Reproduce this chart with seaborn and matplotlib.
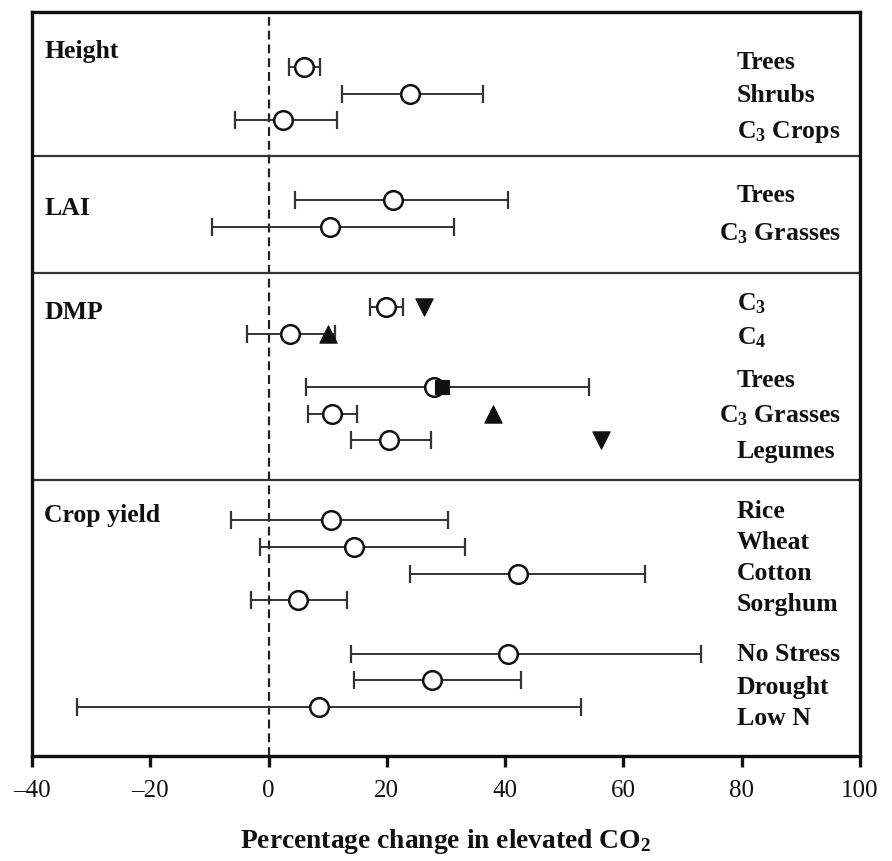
import numpy as np
import pandas as pd
import matplotlib
matplotlib.use("Agg")
import matplotlib.pyplot as plt
import seaborn as sns

# ---------------- data ----------------
groups = ["Height", "LAI", "DMP", "Crop yield"]
row_labels = ["Trees", "Shrubs", "C$_3$ Crops",
              "Trees", "C$_3$ Grasses",
              "C$_3$", "C$_4$", "Trees", "C$_3$ Grasses", "Legumes",
              "Rice", "Wheat", "Cotton", "Sorghum", "No Stress", "Drought", "Low N"]
row_group = ["Height"] * 3 + ["LAI"] * 2 + ["DMP"] * 5 + ["Crop yield"] * 7
mean_change = [6.0, 23.9, 2.5,
               21.1, 10.4,
               19.9, 3.6, 27.9, 10.7, 20.4,
               10.5, 14.4, 42.2, 4.9, 40.5, 27.7, 8.5]
lower_ci = [3.5, 12.4, -5.7,
            4.5, -9.6,
            17.1, -3.7, 6.4, 6.6, 13.9,
            -6.4, -1.5, 23.9, -2.9, 13.9, 14.4, -32.4]
upper_ci = [8.7, 36.2, 11.5,
            40.5, 31.3,
            22.8, 11.2, 54.2, 15.0, 27.5,
            30.3, 33.2, 63.6, 13.3, 73.2, 42.6, 52.8]

# additional DMP estimates (filled symbols)
extra_rows = [5, 6, 7, 8, 9]          # index into row_labels
extra_values = [26.2, 10.0, 29.3, 38.0, 56.2]
extra_kind = ["down", "up", "square", "up", "down"]

x_ticks = [-40, -20, 0, 20, 40, 60, 80, 100]
x_label = "Percentage change in elevated CO$_2$"

# ---------------- layout ----------------
row_y = [2, 3, 4, 7, 8, 11, 12, 14, 15, 16, 19, 20, 21, 22, 24, 25, 26]
label_y = [1.78, 3.04, 4.39, 6.80, 8.23, 10.83, 12.13, 13.73, 15.04, 16.39,
           18.63, 19.79, 20.98, 22.14, 24.01, 25.22, 26.39]
label_x = [79.2] * 17
for i, lab in enumerate(row_labels):
    if "Grasses" in lab:
        label_x[i] = 76.2
group_y = [1.39, 7.26, 11.16, 18.79]
separators = [5.34, 9.73, 17.49]

df = pd.DataFrame({"label": row_labels, "group": row_group, "y": row_y,
                   "mean": mean_change, "lo": lower_ci, "hi": upper_ci})
ex = pd.DataFrame({"y": [row_y[i] for i in extra_rows], "value": extra_values,
                   "kind": extra_kind})

# ---------------- style ----------------
sns.set_theme(style="white")
plt.rcParams["font.family"] = ["Liberation Serif", "DejaVu Serif"]
plt.rcParams["mathtext.fontset"] = "custom"
plt.rcParams["mathtext.rm"] = "Liberation Serif:bold"
plt.rcParams["mathtext.it"] = "Liberation Serif:bold"
plt.rcParams["mathtext.bf"] = "Liberation Serif:bold"
plt.rcParams["mathtext.default"] = "rm"

fig = plt.figure(figsize=(8.92, 8.62), dpi=100)
ax = fig.add_axes([0.0359, 0.1222, 0.9282, 0.8631])

ax.axvline(0, color="#222222", lw=1.6, ls=(0, (4, 2.2)), zorder=1)
for s in separators:
    ax.axhline(s, color="#333333", lw=1.6, zorder=1)

ax.errorbar(df["mean"], df["y"],
            xerr=[df["mean"] - df["lo"], df["hi"] - df["mean"]],
            fmt="none", ecolor="#333333", elinewidth=1.4, capsize=6.4,
            capthick=1.6, zorder=2)

sns.scatterplot(data=df, x="mean", y="y", ax=ax, marker="o", s=180,
                facecolor="white", edgecolor="#111111", linewidth=1.8,
                zorder=3, legend=False)

marker_map = {"down": "v", "up": "^", "square": "s"}
size_map = {"down": 155, "up": 155, "square": 100}
for kind, sub in ex.groupby("kind"):
    sns.scatterplot(data=sub, x="value", y="y", ax=ax, marker=marker_map[kind],
                    s=size_map[kind], color="#111111", edgecolor="#111111",
                    linewidth=0.8, zorder=4, legend=False)

for lx, ly, lab in zip(label_x, label_y, row_labels):
    ax.text(lx, ly, lab, ha="left", va="center", fontsize=18.5,
            fontweight="bold", color="#111111")
for gy, g in zip(group_y, groups):
    ax.text(-37.9, gy, g, ha="left", va="center", fontsize=18.5,
            fontweight="bold", color="#111111")

ax.set_xlim(-40, 100)
ax.set_ylim(27.83, -0.07)
ax.set_xticks(x_ticks)
ax.set_xticklabels([f"{t:d}".replace("-", "\u2013") for t in x_ticks])
ax.set_yticks([])
ax.set_ylabel("")
ax.set_xlabel(x_label, fontsize=19.8, fontweight="bold", labelpad=18,
              color="#111111")
ax.tick_params(axis="x", direction="out", length=8, width=2.4, pad=9,
               labelsize=18, colors="#111111", bottom=True)
for sp in ax.spines.values():
    sp.set_visible(True)
    sp.set_linewidth(2.4)
    sp.set_color("#111111")

fig.savefig("out.png", dpi=100, facecolor="white")
